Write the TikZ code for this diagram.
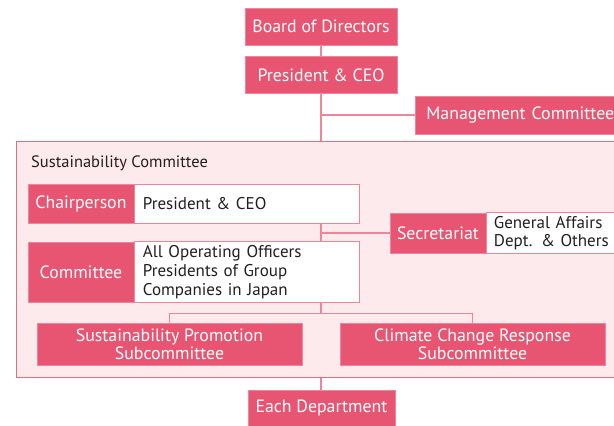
\documentclass[tikz,border=0pt]{standalone}
\usepackage{fontspec}
\setmainfont{PT Sans}
\usepackage{tikz}
\usetikzlibrary{positioning,calc}
\definecolor{boxred}{HTML}{E75572}
\definecolor{linkpink}{HTML}{EE8599}
\definecolor{framefill}{HTML}{FCEAEC}
\definecolor{frameline}{HTML}{E96B83}
\definecolor{textdark}{HTML}{231F20}
\tikzset{
  redbox/.style   = {fill=boxred, draw=linkpink, line width=0.8pt, text=white, inner sep=0pt,
                     align=center, font=\fontsize{17.8}{18}\selectfont},
  valbox/.style   = {fill=white, draw=linkpink, line width=1pt, text=textdark, anchor=west,
                     align=left, inner xsep=8pt, font=\fontsize{17}{19}\selectfont},
  link/.style     = {draw=linkpink, line width=1.4pt},
  group/.style    = {fill=framefill, draw=frameline, line width=1pt, inner sep=0pt},
}
\begin{document}
\begin{tikzpicture}[x=1pt, y=-1pt]
  \useasboundingbox (0,0) rectangle (614,426);
  \clip (0,0) rectangle (614,426);
  % top chain
  \node[redbox, minimum width=152pt, minimum height=37pt] (board) at (321,26.5) {Board of Directors};
  \node[redbox, minimum width=152pt, minimum height=37pt] (ceo) at (321,75) {President \& CEO};
  \node[redbox, anchor=west, minimum height=38pt, align=left, inner xsep=11pt,
        text width=218pt] (mgmt) at (415,115) {Management Committee};
  % committee frame
  \node[group, minimum width=640pt, minimum height=236pt, anchor=north west] (frame) at (16,141) {};
  \node[anchor=west, inner sep=0pt, text=textdark, font=\fontsize{16.5}{18}\selectfont] (title) at (31,163) {Sustainability Committee};
  \coordinate (spine) at (321,0);
  \foreach \n/\y/\h/\lab/\val in {chair/203.5/39/Chairperson/{President \& CEO},
      cmte/272/60/Committee/{All Operating Officers\\Presidents of Group\\Companies in Japan}} {
    \node[redbox, minimum width=106pt, minimum height=\h pt] (\n) at (81,\y) {\lab};
    \node[valbox, minimum height=\h pt, text width=209pt] (\n val) at (\n.east) {\val};
  }
  \node[redbox, minimum width=96pt, minimum height=40pt] (sec) at (438,233) {Secretariat};
  \node[valbox, minimum height=40pt, text width=124pt, inner xsep=7pt,
        font=\fontsize{17}{18}\selectfont] (secval) at (sec.east) {General Affairs\\Dept. \& Others};
  \foreach \n/\x/\t in {promo/169.5/{Sustainability Promotion\\Subcommittee},
      climate/472.5/{Climate Change Response\\Subcommittee}} {
    \node[redbox, minimum width=265pt, minimum height=42pt] (\n) at (\x,344) {\t};
  }
  \node[redbox, minimum width=147pt, minimum height=36pt] (dept) at (321.5,408) {Each Department};
  % connectors
  \draw[link] (board) -- (ceo);
  \draw[link] (ceo.south) -- (ceo.south |- frame.north);
  \draw[link] (ceo.south |- mgmt.west) -- (mgmt.west);
  \draw[link] (chairval.south -| spine) -- (cmteval.north -| spine);
  \draw[link] (sec.west -| spine) -- (sec.west);
  \draw[link] (cmteval.south -| spine) -- ++(0,11) coordinate (fork);
  \draw[link] (promo.north) |- (fork) -| (climate.north);
  \draw[link] (frame.south -| spine) -- (dept.north -| spine);
\end{tikzpicture}
\end{document}
